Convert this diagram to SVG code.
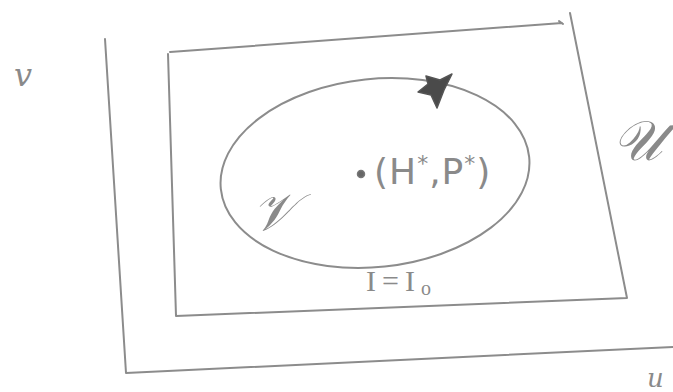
<svg xmlns="http://www.w3.org/2000/svg" width="673" height="392" viewBox="0 0 673 392">
<style>
.ln{fill:none;stroke:#8c8c8c;stroke-width:2;stroke-linecap:round;stroke-linejoin:round}
.hw{font-family:"DejaVu Sans","Liberation Sans",sans-serif;fill:#8a8a8a}
.sr{font-family:"Liberation Serif","DejaVu Serif",serif;fill:#8a8a8a}
.sc{font-family:"DejaVu Serif","Liberation Serif",serif;font-style:italic;fill:#8a8a8a}
</style>
<rect width="673" height="392" fill="#ffffff"/>
<g id="axes">
<path class="ln" d="M105,39 L126,373 L673,347"/>
<text class="sc" x="14" y="86" font-size="32">v</text>
<text class="sc" x="647" y="387" font-size="26">u</text>
</g>
<g id="region-U">
<path class="ln" d="M170,52 L562,23 M559,21 L563,24 M570,13 L627,298 L176,316 L168,54"/>
<text class="sc" x="612" y="160" font-size="56">𝒰</text>
</g>
<g id="region-V">
<ellipse class="ln" cx="375" cy="173" rx="155" ry="94" transform="rotate(-6 375 173)"/>
<polygon points="418,92 428,84 426,76 440,80 452,74 444,90 437,108 431,95" fill="#4a4a4a" stroke="#555" stroke-width="1.5" stroke-linejoin="round"/>
<text class="sc" x="252" y="230" font-size="52">𝒱</text>
</g>
<g id="equilibrium">
<circle cx="361" cy="174" r="3.5" fill="#666" stroke="#777" stroke-width="1.5"/>
<text class="hw" x="374" y="184" font-size="36" letter-spacing="1">(H<tspan font-size="22" dy="-13">*</tspan><tspan dy="13">,P</tspan><tspan font-size="22" dy="-13">*</tspan><tspan dy="13">)</tspan></text>
</g>
<g id="invariant-label">
<text class="sr" x="366" y="291" font-size="30" letter-spacing="6">I=I<tspan font-size="20" dy="4" letter-spacing="0">o</tspan></text>
</g>
</svg>
